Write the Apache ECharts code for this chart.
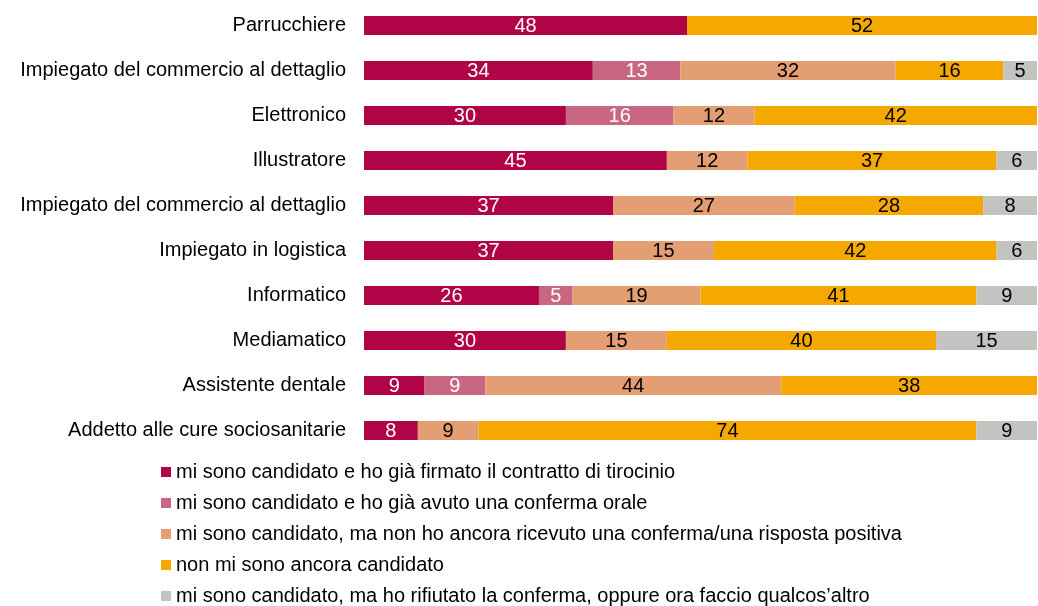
<!DOCTYPE html>
<html>
<head>
<meta charset="utf-8">
<script src="https://cdn.jsdelivr.net/npm/echarts@6/dist/echarts.min.js"></script>
<style>
  html, body { margin: 0; padding: 0; background: #fff; }
  #chart { width: 1038px; height: 606px; }
</style>
</head>
<body>
<div id="chart"></div>
<script>
var categories = [
  'Parrucchiere',
  'Impiegato del commercio al dettaglio',
  'Elettronico',
  'Illustratore',
  'Impiegato del commercio al dettaglio',
  'Impiegato in logistica',
  'Informatico',
  'Mediamatico',
  'Assistente dentale',
  'Addetto alle cure sociosanitarie'
];

var seriesNames = [
  'mi sono candidato e ho già firmato il contratto di tirocinio',
  'mi sono candidato e ho già avuto una conferma orale',
  'mi sono candidato, ma non ho ancora ricevuto una conferma/una risposta positiva',
  'non mi sono ancora candidato',
  'mi sono candidato, ma ho rifiutato la conferma, oppure ora faccio qualcos\u2019altro'
];

// null = segment not present
var firmato    = [48, 34, 30, 45, 37, 37, 26, 30, 9, 8];
var orale      = [null, 13, 16, null, null, null, 5, null, 9, null];
var inAttesa   = [null, 32, 12, 12, 27, 15, 19, 15, 44, 9];
var nonCand    = [52, 16, 42, 37, 28, 42, 41, 40, 38, 74];
var rifiutato  = [null, 5, null, 6, 8, 6, 9, 15, null, 9];

var colors = ['#B00446', '#C96681', '#E39E73', '#F5A800', '#C3C3C1'];
var labelColors = ['#ffffff', '#ffffff', '#000000', '#000000', '#000000'];
var allData = [firmato, orale, inAttesa, nonCand, rifiutato];

var font = '"Liberation Sans", Arial, sans-serif';

var series = allData.map(function (arr, i) {
  return {
    name: seriesNames[i],
    type: 'bar',
    stack: 'tot',
    barWidth: 19,
    data: arr,
    itemStyle: { color: colors[i] },
    label: {
      show: true,
      position: 'inside',
      color: labelColors[i],
      fontFamily: font,
      fontSize: 20,
      offset: [0, 1],
      formatter: function (p) { return p.value == null ? '' : p.value; }
    }
  };
});

var chart = echarts.init(document.getElementById('chart'));
chart.setOption({
  animation: false,
  color: colors,
  grid: { left: 364, right: 1, top: 3, bottom: 153, containLabel: false },
  xAxis: {
    type: 'value',
    min: 0,
    max: 100,
    show: false
  },
  yAxis: {
    type: 'category',
    data: categories,
    inverse: true,
    axisLine: { show: false },
    axisTick: { show: false },
    axisLabel: {
      color: '#000',
      fontFamily: font,
      fontSize: 20,
      margin: 18
    }
  },
  legend: {
    orient: 'vertical',
    left: 161,
    top: 462,
    height: 150,
    padding: 0,
    itemWidth: 10,
    itemHeight: 10,
    itemGap: 11,
    icon: 'rect',
    data: seriesNames,
    textStyle: {
      color: '#000',
      fontFamily: font,
      fontSize: 20,
      lineHeight: 20
    }
  },
  series: series
});
</script>
</body>
</html>
